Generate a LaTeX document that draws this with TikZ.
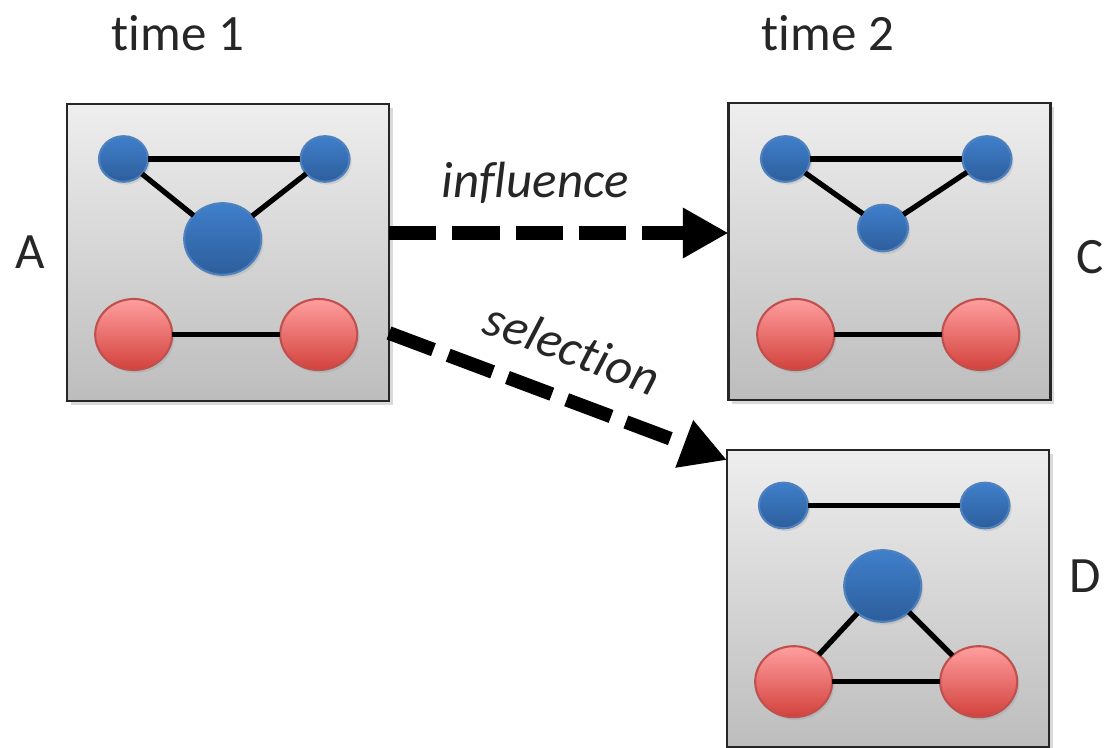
\documentclass[tikz,border=0pt]{standalone}
\usepackage{fontspec}
\setmainfont{Carlito}[Ligatures=NoCommon]
\usetikzlibrary{positioning}
\usetikzlibrary{shapes.geometric}
\usetikzlibrary{arrows.meta}
\usetikzlibrary{shadows}

\definecolor{boxtop}{HTML}{EEEEEE}
\definecolor{boxbot}{HTML}{BDBDBD}
\definecolor{bluetop}{HTML}{3F7FCB}
\definecolor{bluebot}{HTML}{2D5E9C}
\definecolor{blueline}{HTML}{4F81BD}
\definecolor{redtop}{HTML}{FF9F9F}
\definecolor{redbot}{HTML}{D2413C}
\definecolor{redline}{HTML}{C0504D}
\definecolor{txt}{HTML}{262626}

\begin{document}
\begin{tikzpicture}[
        panel/.style = {
            draw = black!85,
            line width = 0.8pt,
            top color = boxtop,
            bottom color = boxbot,
            minimum width = 3.22cm,
            minimum height = 2.97cm,
            inner sep = 0pt,
            outer sep = 0pt,
            drop shadow = {shadow xshift=1pt, shadow yshift=-1pt, opacity=0.3}
        },
        bnode/.style = {
            ellipse,
            draw = blueline,
            line width = 0.6pt,
            top color = bluetop,
            bottom color = bluebot,
            minimum width = #1,
            minimum height = 0.93*#1,
            inner sep = 0pt,
            outer sep = 0pt,
            drop shadow = {shadow xshift=0.6pt, shadow yshift=-0.8pt, opacity=0.2}
        },
        bnode/.default = 0.49cm,
        rnode/.style = {
            ellipse,
            draw = redline,
            line width = 0.6pt,
            top color = redtop,
            bottom color = redbot,
            minimum width = 0.77cm,
            minimum height = 0.71cm,
            inner sep = 0pt,
            outer sep = 0pt,
            drop shadow = {shadow xshift=0.6pt, shadow yshift=-0.8pt, opacity=0.2}
        },
        link/.style = {line width = 1.5pt},
        flow/.style = {
            line width = 3.9pt,
            dash pattern = on 13.5pt off 4.5pt,
            -{Triangle[length=13pt, width=13.5pt]}
        },
        lbl/.style = {font = \fontsize{14.5}{17}\selectfont, text = txt}
        ]
        \useasboundingbox (0,0) rectangle (11.1,-7.48);
%
        \node[panel] (A) at (2.28,-2.525) {};
        \node[panel] (C) at (8.895,-2.515) {};
        \node[panel] (D) at (8.88,-5.985) {};
%
        \node[lbl] (t1) at (1.78,-0.33) {time 1};
        \node[lbl] (t2) at (8.28,-0.33) {time 2};
        \node[lbl] (nA) at (0.30,-2.52) {A};
        \node[lbl] (nC) at (10.90,-2.57) {C};
        \node[lbl] (nD) at (10.85,-5.76) {D};
%
% first panel
        \node[bnode] (a1) at (1.235,-1.59) {};
        \node[bnode] (a2) at (3.25,-1.59) {};
        \node[bnode=0.77cm] (a3) at (2.227,-2.39) {};
        \node[rnode] (a4) at (1.337,-3.345) {};
        \node[rnode] (a5) at (3.187,-3.345) {};
%
        \draw[link] (a1) -- (a2);
        \draw[link] (a1) -- (a3);
        \draw[link] (a2) -- (a3);
        \draw[link] (a4) -- (a5);
%
% after influence
        \node[bnode] (c1) at (7.855,-1.59) {};
        \node[bnode] (c2) at (9.87,-1.59) {};
        \node[bnode=0.5cm] (c3) at (8.83,-2.28) {};
        \node[rnode] (c4) at (7.957,-3.345) {};
        \node[rnode] (c5) at (9.807,-3.345) {};
%
        \draw[link] (c1) -- (c2);
        \draw[link] (c1) -- (c3);
        \draw[link] (c2) -- (c3);
        \draw[link] (c4) -- (c5);
%
% after selection
        \node[bnode] (d1) at (7.835,-5.055) {};
        \node[bnode] (d2) at (9.85,-5.055) {};
        \node[bnode=0.77cm] (d3) at (8.827,-5.86) {};
        \node[rnode] (d4) at (7.937,-6.817) {};
        \node[rnode] (d5) at (9.787,-6.817) {};
%
        \draw[link] (d1) -- (d2);
        \draw[link] (d3) -- (d4);
        \draw[link] (d3) -- (d5);
        \draw[link] (d4) -- (d5);
%
% arrows between panels
        \coordinate (i1) at ([yshift=0.195cm]A.east);
        \coordinate (s1) at ([yshift=-0.805cm]A.east);
        \coordinate (s2) at ([yshift=-0.1cm]D.north west);
%
        \draw[flow] (i1) -- node[lbl, pos=0.43, above=3pt] {\itshape influence} (i1 -| C.west);
        \draw[flow] (s1) -- node[lbl, pos=0.49, sloped, above=4pt] {\itshape selection} (s2);
    \end{tikzpicture}
\end{document}
